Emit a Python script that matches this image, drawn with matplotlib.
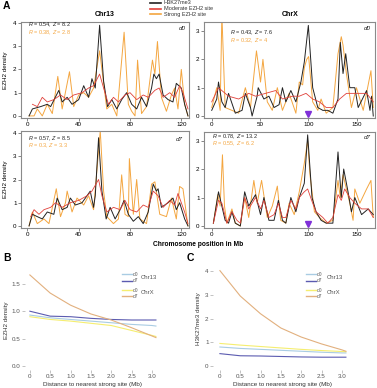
import matplotlib
matplotlib.use('Agg')
import matplotlib.pyplot as plt
from matplotlib.lines import Line2D

plt.rcParams['font.family'] = ['Liberation Sans', 'DejaVu Sans']
plt.rcParams['mathtext.fontset'] = 'custom'
plt.rcParams['mathtext.it'] = 'Liberation Sans:italic'
plt.rcParams['mathtext.rm'] = 'Liberation Sans'

# ---------------- Panel A data (Mb, density) ----------------
c13d0_k27_x = [1.3,3.9,10.3,15.5,18.1,24.5,27.1,31.0,34.8,40.0,43.9,47.7,50.3,52.9,56.3,59.4,62.5,65.8,69.7,73.5,77.4,81.3,85.2,89.0,92.9,96.8,98.6,100.6,102.7,105.8,109.7,113.5,116.1,120.0,122.6,125.2]
c13d0_k27_y = [0.0,0.3,0.4,0.5,0.4,1.1,0.6,0.8,0.5,0.7,1.3,0.8,1.6,1.2,3.9,1.5,0.4,0.7,0.3,0.7,1.0,0.5,0.3,0.8,0.4,1.2,1.8,1.6,1.8,0.9,0.7,0.6,1.4,1.2,0.5,0.0]
c13d0_mod_x = [3.9,7.7,11.6,15.5,20.6,25.8,31.0,36.1,42.6,47.7,51.6,56.3,59.4,63.2,67.1,71.0,76.1,80.0,85.2,90.3,94.2,99.4,102.7,105.8,111.0,114.8,118.7,121.3,125.2]
c13d0_mod_y = [0.5,0.4,0.8,0.6,0.7,0.9,0.7,0.9,1.0,1.2,1.3,1.8,1.2,0.5,0.8,0.6,0.9,1.0,0.7,0.9,0.8,1.1,1.2,0.8,1.0,0.8,1.3,1.0,0.3]
c13d0_str_x = [1.3,5.2,7.7,11.6,15.5,19.4,23.7,27.1,32.8,36.1,40.0,43.9,47.7,51.6,56.3,61.9,65.8,69.7,75.4,78.7,81.3,83.9,85.9,89.0,92.9,97.5,99.4,101.4,104.5,108.4,112.3,114.8,117.4,120.0,122.6,125.2]
c13d0_str_y = [0.0,0.0,0.3,0.0,0.5,0.1,1.7,0.3,1.9,0.4,0.9,1.0,0.8,1.2,2.8,0.3,0.5,0.0,3.6,0.5,0.2,0.0,2.4,0.1,0.4,2.4,1.8,3.2,0.8,0.2,0.9,1.2,0.3,2.0,0.5,0.0]

cXd0_k27_x = [0,5.2,7.0,10.5,13.9,17.4,24.4,31.4,34.8,40.1,41.8,47.0,48.1,54.0,59.2,64.5,69.7,73.2,76.7,81.9,87.1,92.3,95.8,100.0,104.5,109.8,115.0,120.2,125.4,130.7,133.1,135.9,138.7,142.9,148.1,151.6,160.3,163.8,165.5,167.2]
cXd0_k27_y = [0.2,0.6,1.2,0.5,0.3,0.8,0.1,0.2,0.8,0.3,0.0,0.7,1.0,0.6,0.7,0.3,0.4,1.0,0.5,0.9,0.5,1.2,1.9,3.2,1.0,0.3,0.2,0.2,0.1,0.6,2.6,1.5,2.2,1.0,1.0,0.3,0.9,0.2,0.7,0.0]
cXd0_mod_x = [0,7.0,17.4,27.9,38.3,45.3,55.7,66.2,73.2,83.6,90.6,97.6,104.5,111.5,118.5,125.4,132.4,139.4,149.8,160.3,167.2]
cXd0_mod_y = [0.5,1.0,0.7,0.6,0.8,0.7,0.8,0.9,0.6,0.7,0.7,0.8,0.6,0.5,0.3,0.3,0.6,0.8,0.8,0.8,0.5]
cXd0_str_x = [0,5.2,8.7,10.5,13.9,20.9,27.9,34.8,40.1,46.3,50.5,53.0,57.5,62.7,67.9,73.2,80.1,87.1,90.6,94.1,95.8,98.3,100.3,104.5,109.8,113.2,118.5,125.4,130.7,134.1,135.9,139.4,144.6,149.8,156.8,164.8,167.2]
cXd0_str_y = [0.3,1.0,0.2,3.6,0.3,0.2,0.1,1.0,0.3,2.3,1.2,2.0,0.5,0.2,1.0,0.2,0.8,0.1,1.2,1.1,1.7,2.0,2.1,0.5,0.2,0.6,0.1,0.3,2.2,2.8,2.5,1.5,0.3,1.0,0.2,1.6,0.3]

c13d7_k27_x = [1.3,3.9,7.7,11.6,15.5,20.6,23.2,27.1,31.0,33.5,37.4,42.6,45.2,49.0,51.6,52.9,55.5,58.1,61.4,64.5,68.4,72.3,75.4,78.7,82.6,86.5,90.3,94.2,98.1,100.6,101.9,104.5,109.7,113.5,116.1,118.7,122.6,125.2]
c13d7_k27_y = [0.0,0.5,0.4,0.3,0.6,0.5,1.2,0.7,0.8,1.2,0.9,1.0,1.2,1.5,0.8,1.3,3.8,1.5,0.3,0.8,0.3,0.7,1.1,0.5,0.2,0.4,0.1,0.6,1.8,1.5,1.6,0.8,1.0,1.2,0.7,1.0,0.3,0.0]
c13d7_mod_x = [2.6,5.2,9.0,12.9,18.1,21.9,27.1,33.5,40.0,46.5,50.3,55.5,58.1,61.9,67.1,72.3,76.1,80.0,85.2,90.3,94.2,98.1,101.9,105.8,111.0,114.8,117.4,122.6,125.2]
c13d7_mod_y = [0.4,0.7,0.5,0.7,0.8,1.0,0.8,1.0,1.1,1.3,1.5,2.0,1.3,0.6,0.8,0.7,1.1,0.7,0.6,0.9,0.8,1.5,1.3,0.8,1.1,0.9,1.4,0.6,0.1]
c13d7_str_x = [1.3,3.9,7.7,12.9,16.8,22.5,25.8,29.7,31.0,34.8,38.7,43.9,47.7,51.6,56.8,59.4,61.9,67.1,71.0,73.5,76.1,78.7,79.5,82.6,85.2,87.7,92.9,96.8,99.4,103.2,108.4,112.3,116.1,118.7,121.3,125.2]
c13d7_str_y = [0.0,0.6,0.1,0.3,0.1,1.6,0.4,1.0,1.5,0.6,1.2,0.9,1.3,0.7,4.1,1.5,0.4,0.1,0.3,2.2,0.5,0.4,2.9,0.5,2.0,0.3,0.1,1.8,1.9,0.5,0.4,1.2,0.3,1.7,1.6,0.0]

cXd7_k27_x = [1.7,7.0,9.8,13.9,17.4,20.9,24.4,29.6,34.1,38.3,45.3,50.5,54.0,59.2,64.5,69.0,73.2,76.7,81.9,87.1,90.6,95.8,99.3,103.8,108.0,113.2,118.5,125.4,130.7,134.1,136.6,141.1,144.6,148.1,155.1,162.0,167.2]
cXd7_k27_y = [0.1,1.2,0.8,0.2,0.1,0.5,0.1,0.0,1.2,0.7,1.1,0.4,1.0,0.2,0.2,0.9,0.2,0.1,1.0,0.5,1.0,1.5,3.2,1.0,0.5,0.2,0.1,0.1,2.6,1.0,2.0,1.2,0.5,1.0,0.4,0.6,0.4]
cXd7_mod_x = [1.7,7.0,10.5,15.7,20.9,26.1,29.6,34.1,38.3,45.3,50.5,54.0,59.2,64.5,69.0,73.2,76.7,81.9,87.1,90.6,95.8,99.3,104.5,108.0,115.0,120.2,125.4,130.7,134.1,137.6,142.9,148.1,155.1,162.0,167.2]
cXd7_mod_y = [0.1,0.9,0.8,0.1,0.5,0.2,0.1,1.0,0.6,1.0,0.6,0.9,0.3,0.4,0.8,0.3,0.3,0.9,0.6,1.0,1.2,1.3,0.8,0.5,0.3,0.1,0.3,1.1,0.9,1.3,1.0,0.8,0.6,0.6,0.3]
cXd7_str_x = [1.7,6.3,8.7,11.1,13.2,15.7,20.9,24.4,29.6,34.1,38.3,43.6,47.0,51.6,57.5,62.7,67.9,71.4,76.7,80.1,85.4,90.6,95.8,99.3,101.7,106.3,111.5,118.5,125.4,130.7,133.1,135.9,142.9,146.3,148.1,153.3,160.3,164.8,167.2]
cXd7_str_y = [0.1,1.1,0.7,2.5,0.7,0.1,0.6,0.1,0.0,1.0,0.3,1.6,0.8,1.6,0.3,0.7,1.4,0.2,0.1,0.8,0.4,1.2,2.2,3.0,1.8,0.5,0.3,0.1,0.2,1.6,1.0,1.8,0.8,0.2,1.3,0.8,1.3,1.6,0.3]

stats = {
    ('Chr13', 'd0'): ('0.54', '8.2', '0.38', '2.8'),
    ('ChrX', 'd0'): ('0.43', '7.6', '0.32', '4'),
    ('Chr13', 'd7'): ('0.57', '8.5', '0.3', '3.3'),
    ('ChrX', 'd7'): ('0.78', '13.2', '0.55', '6.2'),
}
marker_mb = 100
series_labels = ['H3K27me3', 'Moderate EZH2 site', 'Strong EZH2 site']

# ---------------- Panel B / C data ----------------
dist = [0, 0.5, 1.0, 1.5, 2.0, 2.5, 3.0, 3.1]
b_c13_d0 = [0.93, 0.88, 0.85, 0.82, 0.79, 0.76, 0.74, 0.73]
b_c13_d7 = [1.00, 0.91, 0.90, 0.87, 0.85, 0.84, 0.84, 0.84]
b_cX_d0 = [0.90, 0.85, 0.82, 0.78, 0.74, 0.65, 0.56, 0.54]
b_cX_d7 = [1.66, 1.33, 1.11, 0.95, 0.84, 0.70, 0.55, 0.52]
c_c13_d0 = [0.80, 0.74, 0.70, 0.66, 0.62, 0.58, 0.55, 0.55]
c_c13_d7 = [0.52, 0.43, 0.42, 0.40, 0.38, 0.37, 0.37, 0.37]
c_cX_d0 = [0.95, 0.88, 0.82, 0.76, 0.70, 0.65, 0.61, 0.60]
c_cX_d7 = [4.02, 2.95, 2.20, 1.60, 1.22, 0.93, 0.68, 0.62]

# ---------------- styling ----------------
W, H = 377, 388
fig = plt.figure(figsize=(W / 100, H / 100), dpi=100)

def ax_px(x0, y0, x1, y1):
    return fig.add_axes([x0 / W, 1 - y1 / H, (x1 - x0) / W, (y1 - y0) / H])

def fpos(x, y):
    return x / W, 1 - y / H

K27_C, MOD_C, STR_C = '#222222', '#e0403a', '#f4a640'
FRAME = '#8a8a8a'

def style_track(ax):
    for s in ax.spines.values():
        s.set_color(FRAME)
        s.set_linewidth(0.8)
    ax.tick_params(length=2, width=0.5, color='#555555', labelsize=4.5, pad=1.2)

panels = [
    ('Chr13', 'd0', (21, 22, 189, 118), (-5, 126), (-0.09, 4.04), [0, 1, 2, 3, 4], [0, 40, 80, 120],
     (c13d0_k27_x, c13d0_k27_y), (c13d0_mod_x, c13d0_mod_y), (c13d0_str_x, c13d0_str_y)),
    ('ChrX', 'd0', (204, 22, 375, 118), (-8, 169), (-0.07, 3.32), [0, 1, 2, 3], [0, 50, 100, 150],
     (cXd0_k27_x, cXd0_k27_y), (cXd0_mod_x, cXd0_mod_y), (cXd0_str_x, cXd0_str_y)),
    ('Chr13', 'd7', (21, 131, 189, 228), (-5, 126), (-0.09, 4.09), [0, 1, 2, 3, 4], [0, 40, 80, 120],
     (c13d7_k27_x, c13d7_k27_y), (c13d7_mod_x, c13d7_mod_y), (c13d7_str_x, c13d7_str_y)),
    ('ChrX', 'd7', (204, 132, 375, 228), (-8, 169), (-0.07, 3.3), [0, 1, 2, 3], [0, 50, 100, 150],
     (cXd7_k27_x, cXd7_k27_y), (cXd7_mod_x, cXd7_mod_y), (cXd7_str_x, cXd7_str_y)),
]

text_pos = {
    ('Chr13', 'd0'): ((28, 25), (28, 33), (182, 29)),
    ('ChrX', 'd0'): ((230, 33), (230, 41), (367, 29)),
    ('Chr13', 'd7'): ((28, 139), (28, 146), (179, 139)),
    ('ChrX', 'd7'): ((212, 137), (212, 144), (367, 137)),
}

for chrom, day, box, xl, yl, yt, xt, k27, mod, strg in panels:
    ax = ax_px(*box)
    ax.plot(*strg, color=STR_C, lw=0.7, zorder=2)
    ax.plot(*k27, color=K27_C, lw=0.7, zorder=3)
    ax.plot(*mod, color=MOD_C, lw=0.6, zorder=4)
    ax.set_xlim(*xl)
    ax.set_ylim(*yl)
    ax.set_yticks(yt)
    ax.set_xticks(xt)
    style_track(ax)
    if chrom == 'ChrX':
        ax.plot([marker_mb], [0.07], marker='v', color='#8030d8', ms=4, ls='none',
                zorder=5, clip_on=False)
    r1, z1, r2, z2 = stats[(chrom, day)]
    p1, p2, pd = text_pos[(chrom, day)]
    fig.text(*fpos(*p1), f'$R$ = {r1}, $Z$ = {z1}', fontsize=4, color='#222222', va='center')
    fig.text(*fpos(*p2), f'$R$ = {r2}, $Z$ = {z2}', fontsize=4, color=STR_C, va='center')
    fig.text(*fpos(*pd), day, fontsize=4.5, color='#222222', va='center', ha='center', style='italic')
    if chrom == 'Chr13':
        ax.set_ylabel('EZH2 density', fontsize=4.5, labelpad=3.5)

fig.text(*fpos(105, 15), 'Chr13', fontsize=5, fontweight='bold', ha='center', va='center')
fig.text(*fpos(290, 15), 'ChrX', fontsize=5, fontweight='bold', ha='center', va='center')
fig.text(*fpos(198, 245), 'Chromosome position in Mb', fontsize=4.8, fontweight='bold',
         ha='center', va='center')

# top legend
for i, (lab, col) in enumerate(zip(series_labels, [K27_C, MOD_C, STR_C])):
    y = 3 + i * 5.7
    x0, y0 = fpos(150, y)
    x1, _ = fpos(161, y)
    fig.add_artist(Line2D([x0, x1], [y0, y0], color=col, lw=1.2, transform=fig.transFigure))
    fig.text(*fpos(164, y), lab, fontsize=4, va='center', ha='left', color='#333333')

# panel letters
fig.text(*fpos(3, 6), 'A', fontsize=7.5, fontweight='bold', va='center')
fig.text(*fpos(3, 258), 'B', fontsize=7.5, fontweight='bold', va='center')
fig.text(*fpos(187, 258), 'C', fontsize=7.5, fontweight='bold', va='center')

# ---------------- B and C ----------------
C13D0, C13D7, CXD0, CXD7 = '#a9cce3', '#5b5bb0', '#f5ee70', '#e2b07e'

def style_profile(ax):
    for s in ax.spines.values():
        s.set_visible(False)
    ax.tick_params(length=2, width=0.5, color='#aaaaaa', labelsize=4.5, pad=1.2,
                   labelcolor='#555555')
    ax.set_xticks([0, 0.5, 1.0, 1.5, 2.0, 2.5, 3.0])
    ax.set_xticklabels(['0', '0.5', '1.0', '1.5', '2.0', '2.5', '3.0'])
    ax.set_xlim(-0.12, 3.2)
    ax.set_xlabel('Distance to nearest strong site (Mb)', fontsize=4.5, labelpad=1.5,
                  color='#333333')

axB = ax_px(25, 270, 160, 370)
for vals, col in [(b_c13_d0, C13D0), (b_c13_d7, C13D7), (b_cX_d0, CXD0), (b_cX_d7, CXD7)]:
    axB.plot(dist, vals, color=col, lw=0.8)
style_profile(axB)
axB.set_ylim(-0.07, 1.75)
axB.set_yticks([0, 0.5, 1.0, 1.5])
axB.set_yticklabels(['0.0', '0.5', '1.0', '1.5'])
axB.set_ylabel('EZH2 density', fontsize=4.5, labelpad=2, color='#333333')

axC = ax_px(213, 268, 352, 370)
for vals, col in [(c_c13_d0, C13D0), (c_c13_d7, C13D7), (c_cX_d0, CXD0), (c_cX_d7, CXD7)]:
    axC.plot(dist, vals, color=col, lw=0.8)
style_profile(axC)
axC.set_xlim(-0.17, 3.25)
axC.set_ylim(-0.17, 4.13)
axC.set_yticks([0, 1, 2, 3, 4])
axC.set_ylabel('H3K27me3 density', fontsize=4.5, labelpad=3, color='#333333')

def small_legend(xline, ys, xlab):
    groups = [('Chr13', [C13D0, C13D7]), ('ChrX', [CXD0, CXD7])]
    for (name, cols), (ya, yb) in zip(groups, ys):
        for col, y, lab in zip(cols, (ya, yb), ('d0', 'd7')):
            x0, y0 = fpos(xline, y)
            x1, _ = fpos(xline + 10, y)
            fig.add_artist(Line2D([x0, x1], [y0, y0], color=col, lw=1.0,
                                  transform=fig.transFigure))
            fig.text(*fpos(xline + 11, y), lab, fontsize=3.5, va='center', color='#555555')
        fig.text(*fpos(xlab, (ya + yb) / 2), name, fontsize=4.3, va='center', color='#555555')

small_legend(122, [(274, 281), (290, 296)], 141)
small_legend(306, [(274, 281), (290, 296)], 327)

fig.savefig('out.png', dpi=100)
